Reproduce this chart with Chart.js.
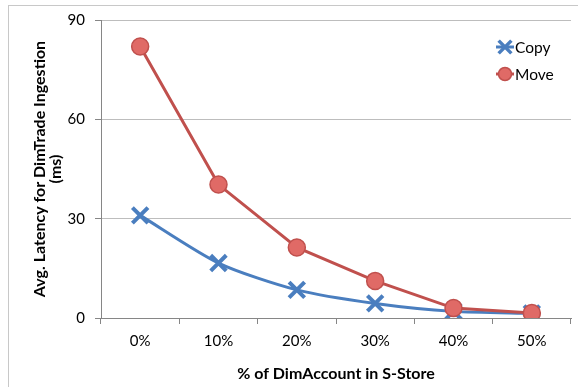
<!DOCTYPE html>
<html><head><meta charset="utf-8">
<script src="https://cdn.jsdelivr.net/npm/chart.js@4/dist/chart.umd.min.js"></script>
<style>
html,body{margin:0;padding:0;background:#fff;}
#wrap{position:relative;width:578px;height:387px;}
#frame{position:absolute;left:8px;top:5px;width:600px;height:400px;border-left:1px solid #c8c8c8;border-top:1px solid #c8c8c8;}
canvas{position:absolute;left:0;top:0;}
</style></head>
<body>
<div id="wrap"><div id="frame"></div><canvas id="c" width="578" height="387"></canvas></div>
<script>
const categories = ['0%','10%','20%','30%','40%','50%'];
const copyValues = [31.0, 16.6, 8.5, 4.4, 2.0, 1.4];
const moveValues = [82.0, 40.3, 21.3, 11.2, 3.0, 1.5];
const yTicks = [0, 30, 60, 90];
const FONT = 'Lato, "Open Sans", sans-serif';
const BLUE = '#4a7ebf';
const RED = '#c0504d';
const RED_FILL = '#e06a66';

const legendPlugin = {
  id: 'insideLegend',
  afterDraw(chart) {
    const ctx = chart.ctx;
    const items = [
      {label: 'Copy', color: BLUE, style: 'crossRot', y: 47, fill: BLUE, bw: 3.5, r: 9},
      {label: 'Move', color: RED, style: 'circle', y: 74, fill: RED_FILL, bw: 1.5, r: 6.5}
    ];
    ctx.save();
    items.forEach(it => {
      ctx.strokeStyle = it.color;
      ctx.lineWidth = 3;
      ctx.beginPath(); ctx.moveTo(496, it.y); ctx.lineTo(514, it.y); ctx.stroke();
      ctx.fillStyle = it.fill;
      ctx.lineWidth = it.bw;
      Chart.helpers.drawPoint(ctx, {pointStyle: it.style, radius: it.r, borderWidth: it.bw}, 505, it.y);
      ctx.fillStyle = '#000';
      ctx.font = '15.5px ' + FONT;
      ctx.textBaseline = 'middle';
      ctx.textAlign = 'left';
      ctx.fillText(it.label, 515, it.y + 1);
    });
    ctx.restore();
  }
};

new Chart(document.getElementById('c'), {
  type: 'line',
  data: {
    labels: categories,
    datasets: [
      {label: 'Copy', data: copyValues, borderColor: BLUE, backgroundColor: BLUE, borderWidth: 3, order: 1,
       pointStyle: 'crossRot', pointRadius: 11, pointBorderWidth: 4, tension: 0.25},
      {label: 'Move', data: moveValues, borderColor: RED, backgroundColor: RED_FILL, borderWidth: 3, order: 0,
       pointStyle: 'circle', pointRadius: 8.5, pointBorderWidth: 1.5, pointBorderColor: RED, tension: 0}
    ]
  },
  options: {
    responsive: false, animation: false,
    layout: {autoPadding: false, padding: {left: 0, right: 7, top: 20, bottom: 0}},
    plugins: {legend: {display: false}, tooltip: {enabled: false}},
    scales: {
      x: {
        offset: true,
        grid: {display: true, drawOnChartArea: false, offset: true, tickLength: 6, color: '#868686'},
        border: {color: '#868686', width: 1},
        ticks: {color: '#000', font: {family: FONT, size: 15}, padding: 8},
        title: {display: true, text: '% of DimAccount in S-Store', color: '#000', font: {family: FONT, size: 16, weight: 'bold'}, padding: {top: 2}},
        afterFit: s => { s.height = 69; s.paddingLeft = 0; s.paddingRight = 0; }
      },
      y: {
        min: 0, max: 90,
        afterBuildTicks: s => { s.ticks = yTicks.map(v => ({value: v})); },
        grid: {color: '#bdbdbd', tickLength: 6, tickColor: '#868686'},
        border: {color: '#868686', width: 1},
        ticks: {color: '#000', font: {family: FONT, size: 15}, padding: 10},
        title: {display: true, text: ['Avg. Latency for DimTrade Ingestion', '(ms)'], color: '#000', font: {family: FONT, size: 16, weight: 'bold', lineHeight: 1.05}, padding: {top: 31, bottom: 4}},
        afterFit: s => { s.width = 101; s.paddingTop = 0; s.paddingBottom = 0; }
      }
    }
  },
  plugins: [legendPlugin]
});
</script>
</body></html>
